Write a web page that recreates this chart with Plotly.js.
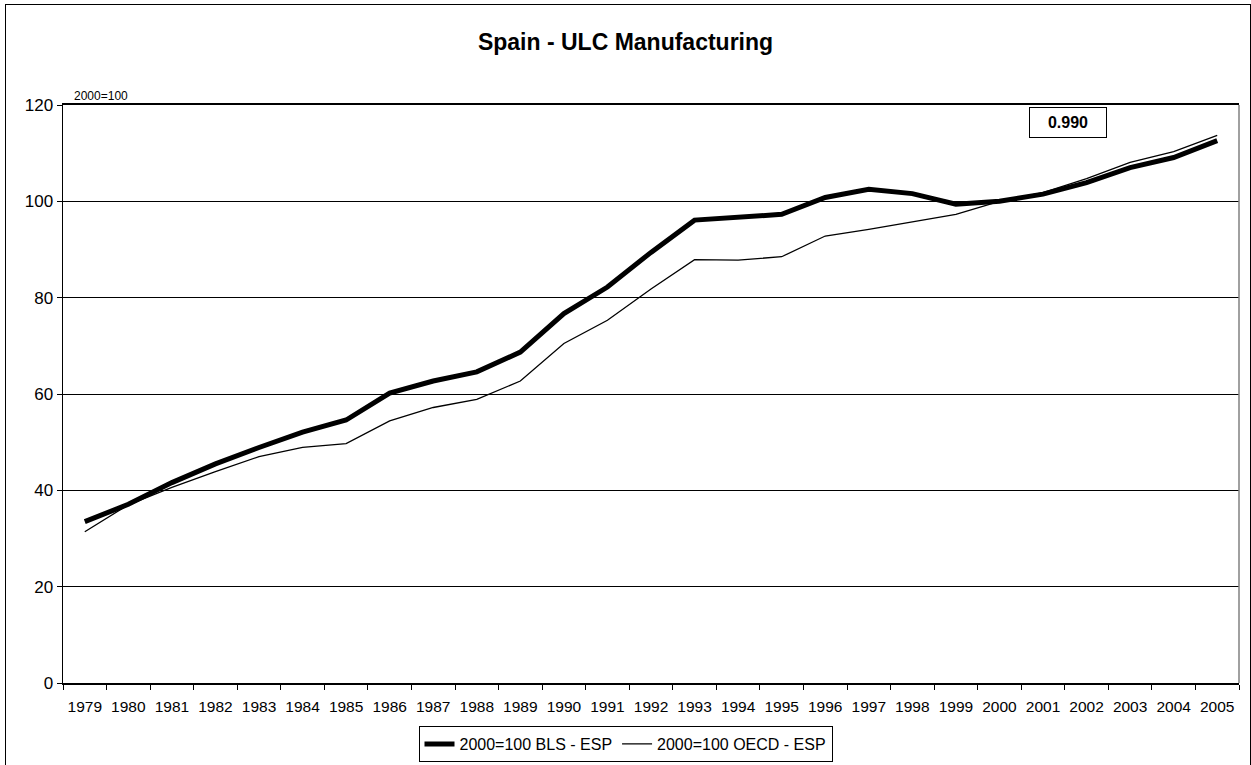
<!DOCTYPE html>
<html>
<head>
<meta charset="utf-8">
<script src="https://cdn.plot.ly/plotly-3.0.1.min.js"></script>
<style>
  html, body { margin: 0; padding: 0; background: #fff; }
  #wrap { position: relative; width: 1251px; height: 765px; overflow: hidden; }
  #chart { position: absolute; left: 0; top: 0; width: 1251px; height: 765px; }
  #frame { position: absolute; left: 5px; top: 4px; width: 1244px; height: 800px;
           border: 1px solid #000; pointer-events: none; }
</style>
</head>
<body>
<div id="wrap">
  <div id="chart"></div>
  <div id="frame"></div>
</div>
<script>
const years = ['1979','1980','1981','1982','1983','1984','1985','1986','1987','1988','1989','1990','1991','1992','1993','1994','1995','1996','1997','1998','1999','2000','2001','2002','2003','2004','2005'];
const blsValues = [33.5, 37.1, 41.6, 45.5, 48.9, 52.1, 54.6, 60.2, 62.7, 64.6, 68.7, 76.7, 82.2, 89.4, 96.1, 96.6, 97.3, 100.8, 102.5, 101.6, 99.4, 100.0, 101.5, 103.9, 107.0, 109.1, 112.6];
const oecdValues = [31.4, 37.0, 40.6, 43.9, 47.0, 48.9, 49.7, 54.4, 57.2, 58.9, 62.7, 70.5, 75.3, 81.8, 87.9, 87.8, 88.5, 92.8, 94.2, 95.7, 97.3, 100.0, 101.8, 104.7, 108.1, 110.3, 113.7];
const seriesNames = ['2000=100 BLS - ESP', '2000=100 OECD - ESP'];
const yTicks = [0, 20, 40, 60, 80, 100, 120];
const titleText = 'Spain - ULC Manufacturing';
const unitLabel = '2000=100';
const correlationLabel = '0.990';

const FONT = 'Arial, "Liberation Sans", sans-serif';

const traces = [
  { type: 'scatter', mode: 'lines', x: years, y: blsValues, name: seriesNames[0],
    line: { color: '#000', width: 5 } },
  { type: 'scatter', mode: 'lines', x: years, y: oecdValues, name: seriesNames[1],
    line: { color: '#000', width: 1.3 } }
];

const layout = {
  width: 1251, height: 765,
  paper_bgcolor: '#fff', plot_bgcolor: '#fff',
  margin: { l: 63, r: 12, t: 105, b: 82, pad: 0 },
  font: { family: FONT, color: '#000', size: 15 },
  title: { text: '<b>' + titleText + '</b>', font: { family: FONT, size: 23, color: '#000' },
           xref: 'container', x: 0.5, xanchor: 'center', yref: 'container', y: 0.945, yanchor: 'middle' },
  xaxis: {
    type: 'category', range: [-0.5, years.length - 0.5],
    showgrid: false, zeroline: false,
    showline: true, linecolor: '#000', linewidth: 2, mirror: true,
    ticks: 'outside', tickson: 'boundaries', ticklen: 5, tickcolor: '#000', tickwidth: 1,
    tickangle: 0,
    tickfont: { family: FONT, size: 15.5, color: '#000' },
    ticklabelstandoff: 8,
    fixedrange: true
  },
  yaxis: {
    range: [0, 120], tickvals: yTicks, ticktext: yTicks.map(String),
    showgrid: true, gridcolor: '#000', gridwidth: 1,
    zeroline: false, showline: true, linecolor: '#000', linewidth: 1.5,
    ticks: 'outside', ticklen: 5, tickcolor: '#000', tickwidth: 1,
    tickfont: { family: FONT, size: 17, color: '#000' },
    fixedrange: true
  },
  showlegend: true,
  legend: {
    orientation: 'h', xref: 'container', yref: 'container',
    x: 0.5, xanchor: 'center', y: 1 - 762 / 765, yanchor: 'bottom',
    bordercolor: '#000', borderwidth: 1, bgcolor: '#fff',
    font: { family: FONT, size: 16, color: '#000' },
    itemwidth: 30, tracegroupgap: 0
  },
  shapes: [
    { type: 'line', xref: 'paper', yref: 'paper', x0: 1, x1: 1, y0: 0, y1: 1,
      line: { color: '#808080', width: 1.5 } }
  ],
  annotations: [
    { text: unitLabel, xref: 'paper', yref: 'paper', x: 0.0077, y: 1.016,
      xanchor: 'left', yanchor: 'middle', showarrow: false,
      font: { family: FONT, size: 12, color: '#000' } },
    { text: '<b>' + correlationLabel + '</b>', xref: 'paper', yref: 'paper',
      x: (1067.5 - 63) / 1176, y: 1 - (122.5 - 105) / 578,
      xanchor: 'center', yanchor: 'middle', showarrow: false,
      width: 72, height: 25, borderpad: 2,
      bordercolor: '#000', borderwidth: 1, bgcolor: '#fff',
      font: { family: FONT, size: 16, color: '#000' } }
  ]
};

Plotly.newPlot('chart', traces, layout, { displayModeBar: false, staticPlot: true });
</script>
</body>
</html>
